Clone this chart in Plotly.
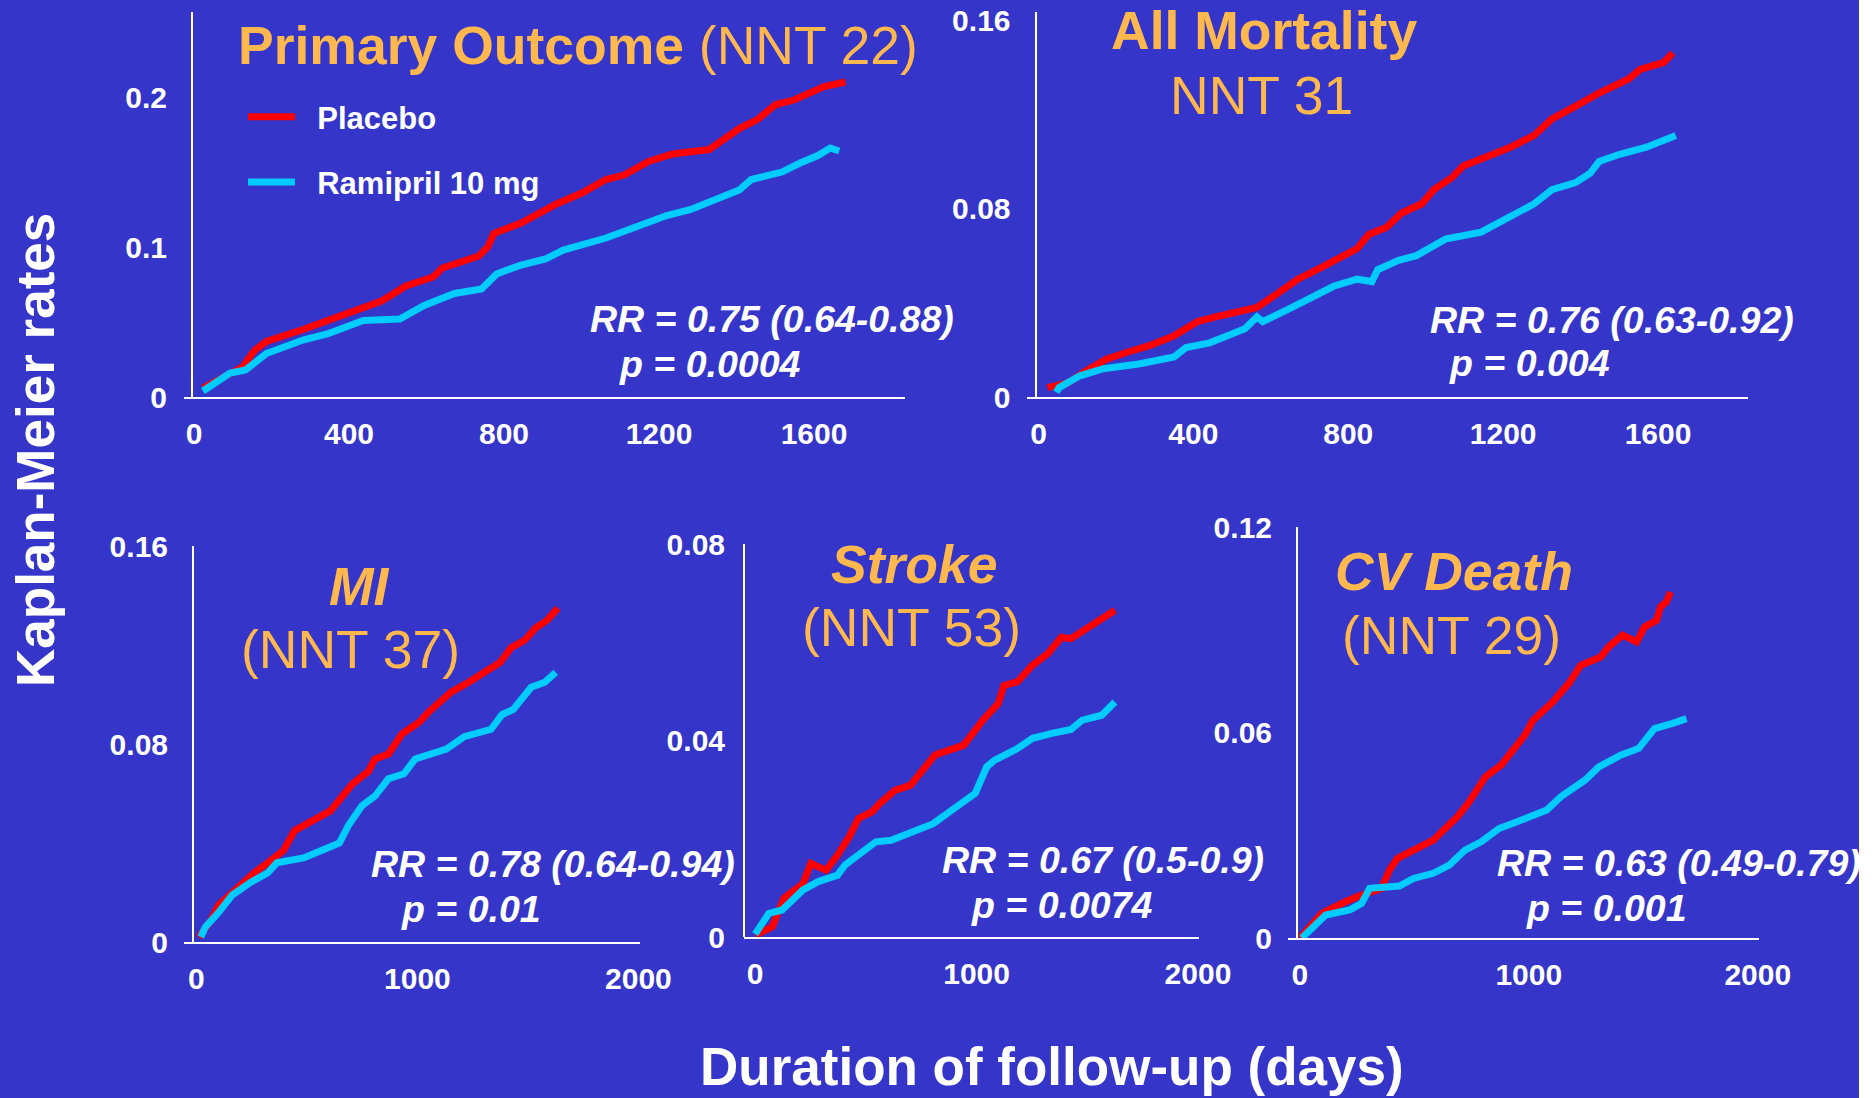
import plotly.graph_objects as go

# ---------------- data: Kaplan-Meier event rates by day ----------------
primary_placebo_days = [23, 62, 125, 156, 187, 281, 375, 484, 547, 617, 641, 672, 735, 758, 774, 844, 938,
                        1001, 1063, 1110, 1173, 1235, 1329, 1368, 1407, 1454, 1501, 1548, 1595, 1626, 1681]
primary_placebo = [0.006, 0.011, 0.020, 0.031, 0.037, 0.045, 0.054, 0.064, 0.074, 0.080, 0.086, 0.089, 0.094,
                   0.100, 0.109, 0.116, 0.129, 0.136, 0.145, 0.148, 0.157, 0.162, 0.165, 0.172, 0.179, 0.185,
                   0.195, 0.198, 0.204, 0.207, 0.210]
primary_ramipril_days = [23, 93, 133, 187, 281, 344, 437, 531, 594, 672, 742, 781, 844, 907, 953, 1063, 1126,
                         1173, 1220, 1282, 1329, 1407, 1438, 1517, 1564, 1610, 1642, 1665]
primary_ramipril = [0.004, 0.016, 0.018, 0.029, 0.038, 0.042, 0.051, 0.052, 0.061, 0.069, 0.072, 0.082, 0.088,
                    0.092, 0.098, 0.106, 0.112, 0.117, 0.121, 0.125, 0.130, 0.138, 0.145, 0.150, 0.156, 0.161,
                    0.166, 0.164]

mort_placebo_days = [23, 76, 122, 175, 229, 290, 350, 411, 457, 564, 609, 670, 731, 777, 823, 853, 899, 937,
                     990, 1021, 1067, 1097, 1173, 1219, 1280, 1326, 1371, 1448, 1524, 1554, 1615, 1638]
mort_placebo = [0.004, 0.006, 0.011, 0.016, 0.019, 0.022, 0.026, 0.032, 0.034, 0.038, 0.043, 0.050, 0.055,
                0.059, 0.063, 0.069, 0.072, 0.078, 0.082, 0.088, 0.093, 0.098, 0.103, 0.106, 0.111, 0.118,
                0.122, 0.129, 0.135, 0.139, 0.142, 0.146]
mort_ramipril_days = [46, 53, 107, 168, 259, 350, 381, 442, 488, 533, 564, 579, 655, 701, 762, 823, 861, 876,
                      930, 976, 1051, 1143, 1219, 1280, 1326, 1387, 1425, 1448, 1501, 1524, 1570, 1646]
mort_ramipril = [0.002, 0.004, 0.009, 0.012, 0.014, 0.017, 0.021, 0.023, 0.026, 0.029, 0.034, 0.032, 0.038,
                 0.042, 0.047, 0.050, 0.049, 0.054, 0.058, 0.060, 0.067, 0.070, 0.077, 0.082, 0.088, 0.091,
                 0.095, 0.100, 0.103, 0.104, 0.106, 0.111]

mi_placebo_days = [10, 61, 101, 182, 262, 323, 394, 444, 525, 606, 707, 778, 808, 869, 929, 1010, 1051, 1152,
                   1232, 1333, 1374, 1424, 1485, 1535, 1586, 1636]
mi_placebo = [0.002, 0.008, 0.015, 0.022, 0.028, 0.032, 0.037, 0.045, 0.049, 0.053, 0.064, 0.069, 0.074,
              0.076, 0.084, 0.089, 0.093, 0.101, 0.105, 0.111, 0.113, 0.119, 0.122, 0.127, 0.130, 0.135]
mi_ramipril_days = [20, 40, 101, 162, 243, 323, 364, 485, 566, 647, 687, 748, 808, 869, 939, 990, 1131, 1212,
                    1333, 1384, 1434, 1475, 1515, 1576, 1626]
mi_ramipril = [0.002, 0.006, 0.012, 0.019, 0.024, 0.028, 0.032, 0.034, 0.037, 0.040, 0.047, 0.055, 0.059,
               0.066, 0.068, 0.074, 0.078, 0.083, 0.086, 0.092, 0.094, 0.099, 0.103, 0.105, 0.109]

stroke_placebo_days = [0, 78, 95, 130, 216, 251, 320, 372, 424, 467, 527, 562, 631, 700, 769, 812, 942, 1028,
                       1098, 1124, 1184, 1253, 1322, 1383, 1426, 1495, 1565, 1625]
stroke_placebo = [0.0004, 0.0021, 0.0041, 0.0079, 0.0109, 0.0150, 0.0136, 0.0167, 0.0204, 0.0242, 0.0255,
                  0.0272, 0.0299, 0.0309, 0.0347, 0.0371, 0.0391, 0.0442, 0.0476, 0.0513, 0.0520, 0.0554,
                  0.0578, 0.0611, 0.0608, 0.0628, 0.0645, 0.0666]
stroke_ramipril_days = [0, 61, 121, 216, 285, 372, 406, 476, 545, 614, 735, 804, 908, 994, 1046, 1080, 1184,
                        1253, 1340, 1426, 1478, 1565, 1625]
stroke_ramipril = [0.0006, 0.0048, 0.0055, 0.0096, 0.0113, 0.0126, 0.0147, 0.0170, 0.0194, 0.0197, 0.0221,
                   0.0231, 0.0265, 0.0293, 0.0347, 0.0360, 0.0384, 0.0405, 0.0415, 0.0423, 0.0442, 0.0452,
                   0.0479]

cv_placebo_days = [0, 44, 96, 183, 252, 357, 392, 427, 514, 583, 635, 688, 740, 810, 879, 932, 983, 1018,
                   1105, 1175, 1227, 1314, 1349, 1410, 1471, 1506, 1558, 1575, 1601, 1619]
cv_placebo = [0.000, 0.0033, 0.0072, 0.0101, 0.0121, 0.0145, 0.0199, 0.0233, 0.0262, 0.0286, 0.0320, 0.0354,
              0.0398, 0.0471, 0.0505, 0.0554, 0.0593, 0.0636, 0.0690, 0.0744, 0.0797, 0.0821, 0.0851, 0.0885,
              0.0865, 0.0909, 0.0928, 0.0967, 0.0982, 0.1011]
cv_ramipril_days = [9, 44, 79, 113, 218, 270, 305, 435, 496, 583, 653, 722, 792, 870, 949, 1079, 1140, 1245,
                    1306, 1401, 1480, 1549, 1628, 1689]
cv_ramipril = [0.000, 0.0023, 0.0043, 0.0067, 0.0082, 0.0101, 0.0145, 0.0152, 0.0174, 0.0189, 0.0213, 0.0257,
               0.0281, 0.0320, 0.0340, 0.0374, 0.0413, 0.0461, 0.0500, 0.0534, 0.0554, 0.0612, 0.0627, 0.0641]

# ---------------- labels ----------------
series_names = ["Placebo", "Ramipril 10 mg"]
panel_titles = ["Primary Outcome", "All Mortality", "MI", "Stroke", "CV Death"]
panel_nnt = ["(NNT 22)", "NNT 31", "(NNT 37)", "(NNT 53)", "(NNT 29)"]
panel_rr = ["RR = 0.75 (0.64-0.88)", "RR = 0.76 (0.63-0.92)", "RR = 0.78 (0.64-0.94)",
            "RR = 0.67 (0.5-0.9)", "RR = 0.63 (0.49-0.79)"]
panel_p = ["p = 0.0004", "p = 0.004", "p = 0.01", "p = 0.0074", "p = 0.001"]
y_ticks = [[0, 0.1, 0.2], [0, 0.08, 0.16], [0, 0.08, 0.16], [0, 0.04, 0.08], [0, 0.06, 0.12]]
y_ticktext = [["0", "0.1", "0.2"], ["0", "0.08", "0.16"], ["0", "0.08", "0.16"],
              ["0", "0.04", "0.08"], ["0", "0.06", "0.12"]]
x_ticks_top = [0, 400, 800, 1200, 1600]
x_ticks_bottom = [0, 1000, 2000]
y_title = "Kaplan-Meier rates"
x_title = "Duration of follow-up (days)"

# ---------------- styling ----------------
W, H = 1875, 1098
BG = "#3535C9"
RED = "#FF0000"
CYAN = "#00CCFF"
ORANGE = "#FFB84D"
WHITE = "#FFFFFF"
FONT = "Arial, 'Liberation Sans', sans-serif"
LEGEND_PAD = "\u00a0\u00a0"  # gap between legend swatch and its label


def fx(p):
    return p / W


def fy(p):
    return 1 - p / H


# pixel geometry of each panel: x-axis span, y-axis span, y-axis line position, ranges
panels = [
    dict(xdom=(184, 905), ydom=(397, 12), yline=192, xr=(-25.8, 1834.8), yr=(0, 0.2567),
         xt=x_ticks_top, standoff_y=18),
    dict(xdom=(1027, 1748), ydom=(397, 12), yline=1035.5, xr=(-29.7, 1832.4), yr=(0, 0.1634),
         xt=x_ticks_top, standoff_y=18),
    dict(xdom=(184, 639.5), ydom=(942, 546), yline=193, xr=(-56.1, 2005), yr=(0, 0.1601),
         xt=x_ticks_bottom, standoff_y=18),
    dict(xdom=(744, 1199.1), ydom=(937, 544), yline=744, xr=(-50.6, 2005), yr=(0, 0.0801),
         xt=x_ticks_bottom, standoff_y=12),
    dict(xdom=(1288, 1758.9), ydom=(938, 527), yline=1297, xr=(-51.5, 2005), yr=(0, 0.1201),
         xt=x_ticks_bottom, standoff_y=18),
]

curves = [
    (primary_placebo_days, primary_placebo, primary_ramipril_days, primary_ramipril),
    (mort_placebo_days, mort_placebo, mort_ramipril_days, mort_ramipril),
    (mi_placebo_days, mi_placebo, mi_ramipril_days, mi_ramipril),
    (stroke_placebo_days, stroke_placebo, stroke_ramipril_days, stroke_ramipril),
    (cv_placebo_days, cv_placebo, cv_ramipril_days, cv_ramipril),
]

fig = go.Figure()
layout_axes = {}
tickfont = dict(family=FONT, size=30, color=WHITE, weight="bold")

for i, (pan, (pd_, pv, rd, rv)) in enumerate(zip(panels, curves)):
    n = "" if i == 0 else str(i + 1)
    xa, ya = "x" + n, "y" + n
    fig.add_trace(go.Scatter(x=pd_, y=pv, mode="lines", name=LEGEND_PAD + series_names[0],
                             line=dict(color=RED, width=7), xaxis=xa, yaxis=ya,
                             showlegend=(i == 0), legendgroup="placebo"))
    fig.add_trace(go.Scatter(x=rd, y=rv, mode="lines", name=LEGEND_PAD + series_names[1],
                             line=dict(color=CYAN, width=7), xaxis=xa, yaxis=ya,
                             showlegend=(i == 0), legendgroup="ramipril"))
    layout_axes["xaxis" + n] = dict(
        domain=[fx(pan["xdom"][0]), fx(pan["xdom"][1])], range=list(pan["xr"]), anchor=ya,
        showgrid=False, zeroline=False, showline=True, linecolor=WHITE, linewidth=2,
        tickvals=pan["xt"], ticktext=[str(v) for v in pan["xt"]], tickfont=tickfont,
        ticks="", ticklabelstandoff=9, fixedrange=True, automargin=False,
    )
    layout_axes["yaxis" + n] = dict(
        domain=[fy(pan["ydom"][0]), fy(pan["ydom"][1])], range=list(pan["yr"]),
        anchor="free", position=fx(pan["yline"]),
        showgrid=False, zeroline=False, showline=True, linecolor=WHITE, linewidth=2,
        tickvals=y_ticks[i], ticktext=y_ticktext[i], tickfont=tickfont,
        ticks="", ticklabelstandoff=pan["standoff_y"], fixedrange=True, automargin=False,
    )

annotations = []


def add_text(text, x, y, size, color=WHITE, xanchor="center", bold=False, italic=False, angle=0):
    if bold:
        text = "<b>" + text + "</b>"
    if italic:
        text = "<i>" + text + "</i>"
    annotations.append(dict(text=text, x=fx(x), y=fy(y), xref="paper", yref="paper",
                            xanchor=xanchor, yanchor="middle", showarrow=False, textangle=angle,
                            font=dict(family=FONT, size=size, color=color)))


# panel headings
TS = 53.5
add_text("<b>" + panel_titles[0] + "</b> " + panel_nnt[0], 236, 45, TS, ORANGE, xanchor="left")
add_text(panel_titles[1], 1264, 31, TS, ORANGE, bold=True)
add_text(panel_nnt[1], 1261, 95, TS, ORANGE)
add_text(panel_titles[2], 359, 586, TS, ORANGE, bold=True, italic=True)
add_text(panel_nnt[2], 350, 649, TS, ORANGE)
add_text(panel_titles[3], 914, 564, TS, ORANGE, bold=True, italic=True)
add_text(panel_nnt[3], 911, 627, TS, ORANGE)
add_text(panel_titles[4], 1454, 571, TS, ORANGE, bold=True, italic=True)
add_text(panel_nnt[4], 1451, 635, TS, ORANGE)

# relative risk and p-values
RS = 37.5
rr_pos = [(588, 319), (1428, 320), (369, 864), (940, 860), (1495, 863)]
p_pos = [(617, 364), (1447, 363), (399, 909), (969, 905), (1524, 908)]
for i in range(5):
    add_text(panel_rr[i], rr_pos[i][0], rr_pos[i][1], RS, xanchor="left", bold=True, italic=True)
    add_text(panel_p[i], p_pos[i][0], p_pos[i][1], RS, xanchor="left", bold=True, italic=True)

# shared axis titles
add_text(y_title, 35, 450, 53, bold=True, angle=-90)
add_text(x_title, 1052, 1066, 53, bold=True)

fig.update_layout(
    template="none",
    width=W, height=H, autosize=False,
    margin=dict(l=0, r=0, t=0, b=0, pad=0),
    paper_bgcolor=BG, plot_bgcolor="rgba(0,0,0,0)",
    showlegend=True,
    legend=dict(x=fx(243), y=fy(90), xanchor="left", yanchor="top",
                bgcolor="rgba(0,0,0,0)", borderwidth=0,
                font=dict(family=FONT, size=31, color=WHITE, weight="bold"),
                traceorder="grouped", tracegroupgap=22, itemwidth=47),
    annotations=annotations,
    shapes=[dict(type="rect", xref="paper", yref="paper", x0=fx(1859), x1=1, y0=0, y1=1,
                 fillcolor=WHITE, line=dict(width=0), layer="above")],
    **layout_axes,
)

fig.write_html("out.html")
